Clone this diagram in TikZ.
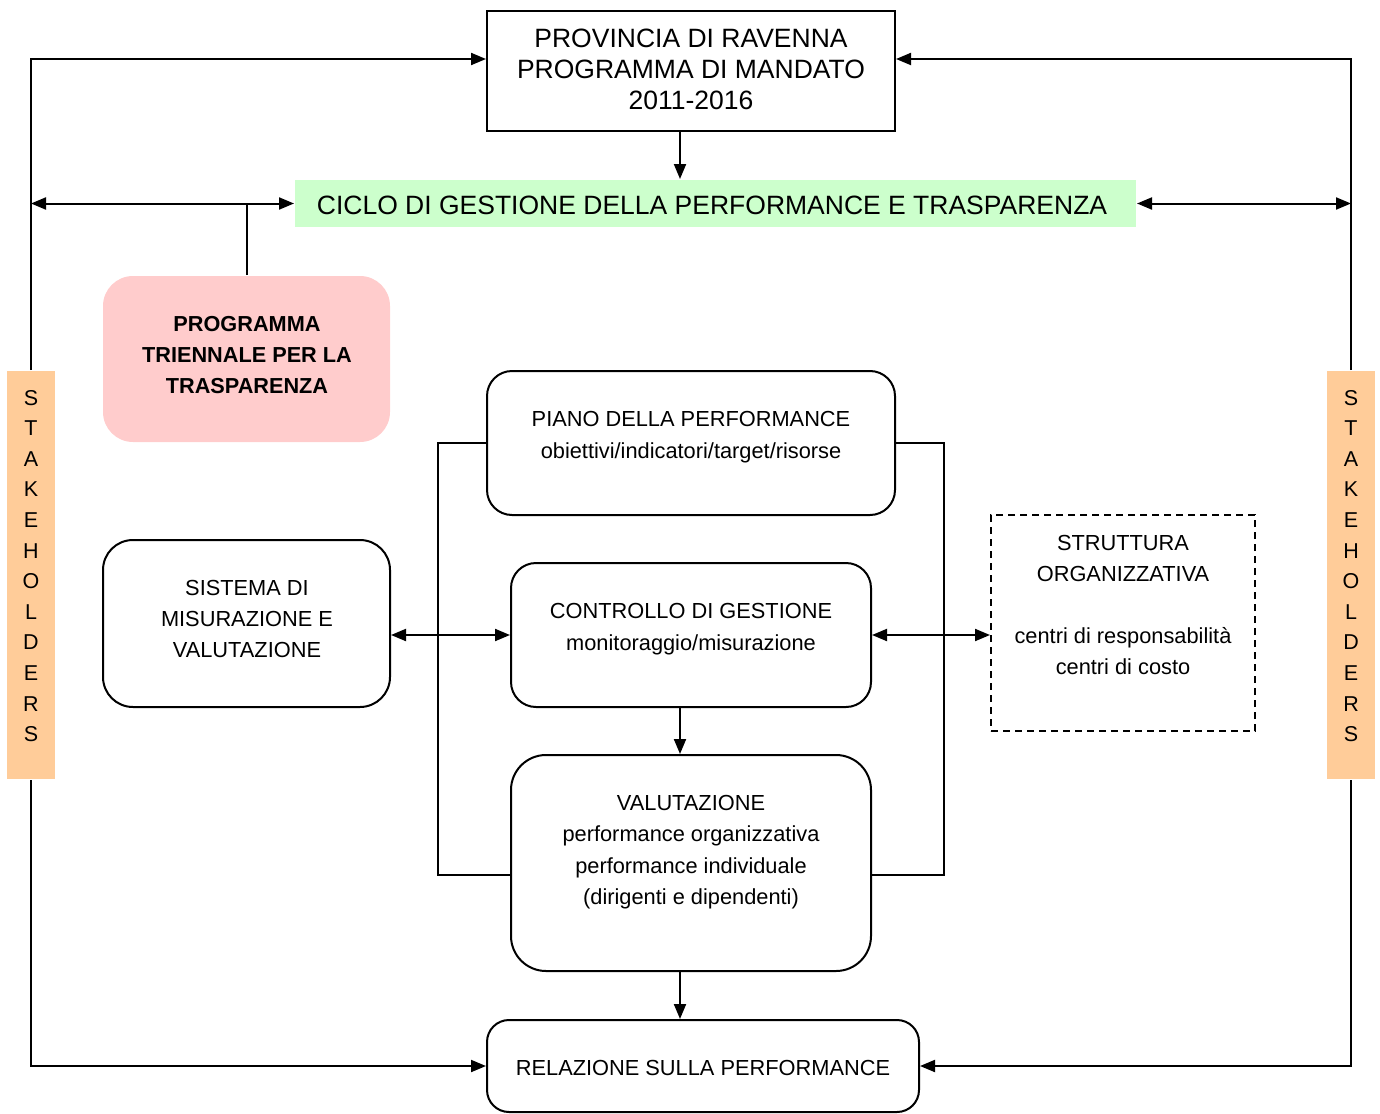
\documentclass[tikz,border=0pt]{standalone}
\usepackage{fontspec}
\setmainfont{Liberation Sans}
\usetikzlibrary{arrows.meta}
\definecolor{cgreen}{HTML}{CCFFCC}
\definecolor{cpink}{HTML}{FFCCCC}
\definecolor{cpeach}{HTML}{FFCC99}
\begin{document}
\begin{tikzpicture}[x=1pt,y=-1pt,
  line width=2pt,
  arr/.style={-{Triangle[length=15pt,width=12pt]}},
  darr/.style={{Triangle[length=15pt,width=12pt]}-{Triangle[length=15pt,width=12pt]}},
  sqbox/.style={draw, line width=2pt, inner sep=0pt},
  rbox/.style={draw, line width=2pt, inner sep=0pt, rounded corners=#1},
  rbox/.default=25pt,
  fbox/.style={inner sep=0pt, rounded corners=30pt, fill=cpink},
  bar/.style={fill=cpeach, inner sep=0pt, minimum width=48pt, minimum height=408pt},
  big/.style={font=\fontsize{26.5}{31}\selectfont, align=center, inner sep=0pt},
  mid/.style={font=\fontsize{21.8}{31.3}\selectfont, align=center, inner sep=0pt},
  bld/.style={font=\fontsize{21.7}{31}\selectfont\bfseries, align=center, inner sep=0pt},
  stk/.style={font=\fontsize{21.5}{30.6}\selectfont, align=center, inner sep=0pt}
]
\useasboundingbox (0,0) rectangle (1380,1113);

% boxes
\node[sqbox, minimum width=408pt, minimum height=120pt] (top) at (691,71) {};
\node[big] (topt) at (691,69) {PROVINCIA DI RAVENNA\\PROGRAMMA DI MANDATO\\2011-2016};

\node[fill=cgreen, inner sep=0pt, minimum width=841pt, minimum height=47pt] (ciclo) at (715.5,203.5) {};
\node[big] (ciclot) at (712,205) {CICLO DI GESTIONE DELLA PERFORMANCE E TRASPARENZA};

\node[fbox, minimum width=287pt, minimum height=166pt] (pink) at (246.5,359) {};
\node[bld] (pinkt) at (247,355) {PROGRAMMA\\TRIENNALE PER LA\\TRASPARENZA};

\node[bar] (lbar) at (31,575) {};
\node[bar] (rbar) at (1351,575) {};
\node[stk] (lbart) at (31,566) {S\\T\\A\\K\\E\\H\\O\\L\\D\\E\\R\\S};
\node[stk] (rbart) at (1351,566) {S\\T\\A\\K\\E\\H\\O\\L\\D\\E\\R\\S};

\node[rbox, minimum width=408pt, minimum height=144pt] (piano) at (691,443) {};
\node[mid] (pianot) at (691,437) {PIANO DELLA PERFORMANCE\\obiettivi/indicatori/target/risorse};

\node[rbox=30pt, minimum width=287pt, minimum height=167pt] (sis) at (246.5,623.5) {};
\node[mid] (sist) at (247,619) {SISTEMA DI\\MISURAZIONE E\\VALUTAZIONE};

\node[rbox, minimum width=360pt, minimum height=144pt] (ctrl) at (691,635) {};
\node[mid] (ctrlt) at (691,629) {CONTROLLO DI GESTIONE\\monitoraggio/misurazione};

\node[draw, dashed, line width=2pt, inner sep=0pt, minimum width=264pt, minimum height=216pt, dash pattern=on 7pt off 5pt] (strut) at (1123,623) {};
\node[mid] (strutt) at (1123,605) {STRUTTURA\\ORGANIZZATIVA\\[30.7pt]centri di responsabilità\\centri di costo};

\node[rbox=35pt, minimum width=360pt, minimum height=216pt] (val) at (691,863) {};
\node[mid] (valt) at (691,852) {VALUTAZIONE\\performance organizzativa\\performance individuale\\(dirigenti e dipendenti)};

\node[rbox=22pt, minimum width=432pt, minimum height=92pt] (rel) at (703,1066) {};
\node[mid] (relt) at (703,1068) {RELAZIONE SULLA PERFORMANCE};

% connectors
\draw[arr] ([xshift=-11pt]top.south) -- ([xshift=-11pt]top.south |- ciclo.north);
\draw[arr] (lbar.north) |- ([yshift=12pt]top.west);
\draw[arr] (rbar.north) |- ([yshift=12pt]top.east);
\draw[arr] (lbar.south) |- (rel.west);
\draw[arr] (rbar.south) |- (rel.east);
\draw[darr] (ciclo.west -| lbar.north) -- (ciclo.west);
\draw[darr] (ciclo.east) -- (ciclo.east -| rbar.north);
\draw (pink.north) -- (pink.north |- ciclo.west);
\draw (piano.west) -- ++(-48,0) |- ([yshift=-12pt]val.west);
\draw (piano.east) -- ++(48,0) |- ([yshift=-12pt]val.east);
\draw[darr] (ctrl.west -| sis.east) -- (ctrl.west);
\draw[darr] (ctrl.east) -- (ctrl.east -| strut.west);
\draw[arr] ([xshift=-11pt]ctrl.south) -- ([xshift=-11pt]ctrl.south |- val.north);
\draw[arr] ([xshift=-11pt]val.south) -- ([xshift=-11pt]val.south |- rel.north);
\end{tikzpicture}
\end{document}
